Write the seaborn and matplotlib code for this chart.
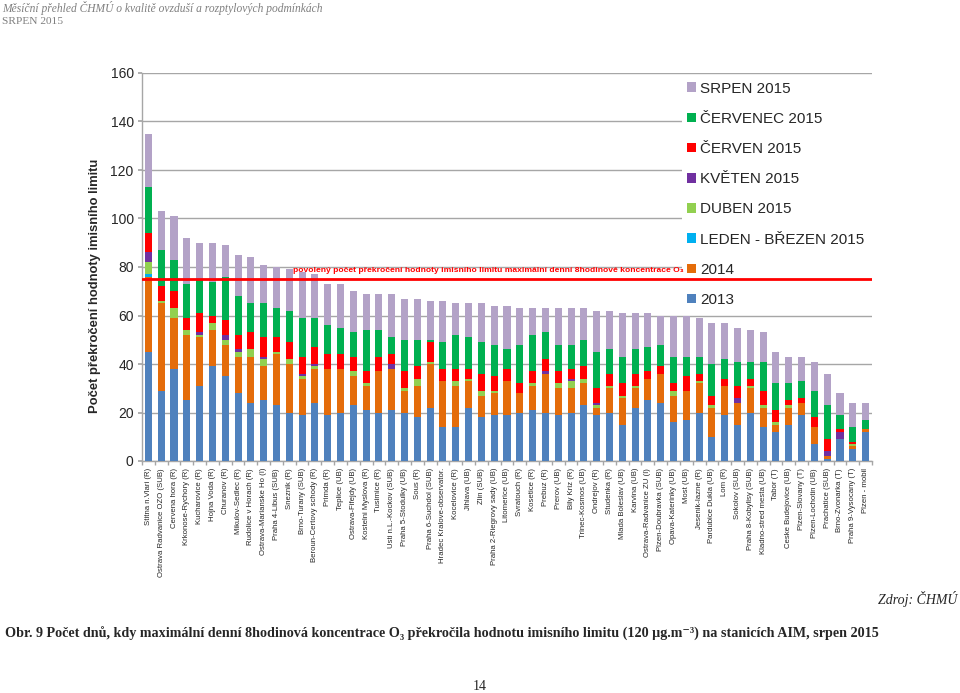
import numpy as np
import pandas as pd
import matplotlib
matplotlib.use("Agg")
import matplotlib.pyplot as plt
from matplotlib.patches import Patch, Rectangle
import seaborn as sns

stations = [
    "Stitna n.Vlari (R)", "Ostrava Radvanice OZO (SUB)", "Cervena hora (R)", "Krkonose-Rychory (R)",
    "Kucharovice (R)", "Hojna Voda (R)", "Churanov (R)", "Mikulov-Sedlec (R)", "Rudolice v Horach (R)",
    "Ostrava-Marianske Ho (I)", "Praha 4-Libus (SUB)", "Sneznik (R)", "Brno-Turany (SUB)",
    "Beroun-Certovy schody (R)", "Primda (R)", "Teplice (UB)", "Ostrava-Fifejdy (UB)",
    "Kostelni Myslova (R)", "Tusimice (R)", "Usti n.L.-Kockov (SUB)", "Praha 5-Stodulky (UB)",
    "Sous (R)", "Praha 6-Suchdol (SUB)", "Hradec Kralove-observator.", "Kocelovice (R)",
    "Jihlava (UB)", "Zlin (SUB)", "Praha 2-Riegrovy sady (UB)", "Litomerice (UB)", "Svratouch (R)",
    "Kosetice (R)", "Prebuz (R)", "Prerov (UB)", "Bily Kriz (R)", "Trinec-Kosmos (UB)",
    "Ondrejov (R)", "Studenka (R)", "Mlada Boleslav (UB)", "Karvina (UB)",
    "Ostrava-Radvanice ZU (I)", "Plzen-Doubravka (SUB)", "Opava-Katerinky (UB)", "Most (UB)",
    "Jesenik-lazne (R)", "Pardubice Dukla (UB)", "Lom (R)", "Sokolov (SUB)",
    "Praha 8-Kobylisy (SUB)", "Kladno-stred mesta (UB)", "Tabor (T)", "Ceske Budejovice (UB)",
    "Plzen-Slovany (T)", "Plzen-Lochotin (UB)", "Prachatice (SUB)", "Brno-Zvonarka (T)",
    "Praha 9-Vysocany (T)", "Plzen - mobil",
]

y2013 = [45, 29, 38, 25, 31, 39, 35, 28, 24, 25, 23, 20, 19, 24, 19, 20, 23, 21, 20, 21, 20, 18, 22, 14, 14,
         22, 18, 19, 19, 20, 21, 20, 19, 20, 23, 19, 20, 15, 22, 25, 24, 16, 17, 20, 10, 19, 15, 20, 14, 12,
         15, 19, 7, 1, 9, 5, 12]
y2014 = [31, 36, 21, 27, 20, 15, 13, 15, 19, 14, 21, 20, 15, 14, 19, 18, 12, 10, 17, 17, 9, 13, 18, 19, 17,
         11, 9, 9, 14, 8, 10, 16, 11, 10, 9, 3, 10, 11, 8, 9, 12, 11, 12, 12, 12, 12, 9, 10, 8, 3,
         7, 5, 7, 1, 0, 1, 1]
leden_brezen = [1] + [0] * 56
duben = [5, 1, 4, 2, 1, 3, 2, 2, 3, 3, 1, 2, 1, 1, 0, 0, 2, 1, 0, 0, 1, 3, 1, 0, 2,
         1, 2, 1, 0, 0, 1, 0, 2, 3, 2, 1, 1, 1, 1, 0, 0, 2, 0, 1, 1, 0, 0, 1, 1, 1,
         1, 0, 0, 0, 0, 1, 0]
kveten = [4, 0, 0, 0, 1, 0, 2, 1, 0, 1, 0, 0, 1, 1, 0, 0, 0, 0, 0, 2, 0, 0, 0, 0, 0,
          0, 0, 0, 0, 0, 0, 1, 0, 1, 0, 1, 0, 0, 0, 0, 0, 0, 0, 0, 0, 0, 2, 0, 0, 0,
          0, 0, 0, 2, 3, 0, 0]
cerven = [8, 6, 7, 5, 8, 3, 6, 6, 7, 8, 6, 7, 7, 7, 6, 6, 6, 5, 6, 4, 7, 5, 8, 5, 5,
          4, 7, 6, 5, 4, 5, 5, 5, 4, 5, 6, 5, 5, 5, 3, 3, 3, 6, 3, 4, 3, 5, 3, 6, 5,
          2, 2, 4, 5, 1, 1, 0]
cervenec = [19, 15, 13, 14, 14, 14, 18, 16, 12, 14, 12, 13, 16, 12, 12, 11, 10, 17, 11, 7, 13, 11, 1, 11, 14,
            13, 13, 13, 8, 16, 15, 11, 11, 10, 11, 15, 10, 11, 10, 10, 9, 11, 8, 7, 13, 8, 10, 7, 12, 11,
            7, 7, 11, 14, 6, 6, 4]
srpen = [22, 16, 18, 19, 15, 16, 13, 17, 19, 16, 17, 17, 19, 18, 17, 18, 17, 15, 15, 18, 17, 17, 16, 17, 13,
         14, 16, 16, 18, 15, 11, 10, 15, 15, 13, 17, 16, 18, 15, 14, 12, 17, 17, 16, 17, 15, 14, 13, 12, 13,
         11, 10, 12, 13, 9, 10, 7]

series_labels = ["2013", "2014", "LEDEN - BŘEZEN 2015", "DUBEN 2015", "KVĚTEN 2015",
                 "ČERVEN 2015", "ČERVENEC 2015", "SRPEN 2015"]
series_colors = ["#4F81BD", "#E46C0A", "#00B0F0", "#92D050", "#7030A0",
                 "#FF0000", "#00B050", "#B3A2C7"]
limit_value = 75

df = pd.DataFrame({
    "station": stations,
    "2013": y2013, "2014": y2014, "LEDEN - BŘEZEN 2015": leden_brezen,
    "DUBEN 2015": duben, "KVĚTEN 2015": kveten, "ČERVEN 2015": cerven,
    "ČERVENEC 2015": cervenec, "SRPEN 2015": srpen,
})
cum = df[series_labels].cumsum(axis=1)

sns.set_theme(style="white")
plt.rcParams["font.family"] = ["Liberation Sans", "DejaVu Sans"]

W, H = 960, 693
fig = plt.figure(figsize=(W / 100, H / 100), dpi=100)
ax = fig.add_axes([142 / W, 1 - 461 / H, (872 - 142) / W, (461 - 73) / H])

for lab, col in reversed(list(zip(series_labels, series_colors))):
    sns.barplot(x=df["station"], y=cum[lab], color=col, saturation=1, width=0.55,
                order=stations, ax=ax, zorder=3, linewidth=0)

ax.set_ylim(0, 160)
ax.set_xlim(-0.5, len(stations) - 0.5)
ax.set_yticks(np.arange(0, 161, 20))
ax.yaxis.grid(True, color="#A6A6A6", linewidth=1, zorder=0)
ax.set_axisbelow(True)
ax.tick_params(axis="y", labelsize=10, length=3, color="#A6A6A6", direction="out", pad=3, left=True)
ax.set_xticks(range(len(stations)))
ax.set_xticklabels(stations, rotation=90, fontsize=5.6)
ax.tick_params(axis="x", length=0, pad=5)
ax.set_xticks(np.arange(-0.5, len(stations), 1), minor=True)
ax.tick_params(axis="x", which="minor", length=3, color="#A6A6A6", bottom=True)
ax.set_xlabel("")
ax.set_ylabel("")
for s in ["top", "right"]:
    ax.spines[s].set_visible(False)
for s in ["left", "bottom"]:
    ax.spines[s].set_color("#A6A6A6")
    ax.spines[s].set_linewidth(1)

# white background behind the legend (covers gridlines like the original)
ax.add_patch(Rectangle((682 / W, 1 - 306 / H), 194 / W, (306 - 78) / H,
                       transform=fig.transFigure, facecolor="white", edgecolor="none",
                       zorder=4, clip_on=False))

handles = [Patch(facecolor=c, edgecolor="none") for c in reversed(series_colors)]
leg = ax.legend(handles, list(reversed(series_labels)), loc="upper left",
                bbox_to_anchor=(682 / W, 1 - 77 / H), bbox_transform=fig.transFigure,
                frameon=False,
                fontsize=11, handlelength=0.6, handleheight=0.6, handletextpad=0.3,
                labelspacing=1.06, borderpad=0.3, borderaxespad=0)
leg.set_zorder(5)

ax.axhline(limit_value, color="#FF0000", linewidth=2, zorder=10)
fig.text(684 / W, 1 - 272 / H,
         "povolený počet překročení hodnoty imisního limitu maximální denní 8hodinové koncentrace O₃",
         color="#FF0000", fontsize=6.1, fontweight="bold", ha="right", va="baseline",
         family=["Liberation Sans", "DejaVu Sans"])

fig.text(95 / W, 1 - 286 / H, "Počet překročení hodnoty imisního limitu", rotation=90,
         ha="center", va="center", fontsize=9.4, fontweight="bold")

serif = ["Liberation Serif", "DejaVu Serif"]
fig.text(2 / W, 1 - 8 / H, "Měsíční přehled ČHMÚ o kvalitě ovzduší a rozptylových podmínkách",
         family=serif, style="italic", fontsize=8.3, color="#7F7F7F", va="center", ha="left")
fig.text(2 / W, 1 - 21 / H, "SRPEN 2015", family=serif, fontsize=8.2, color="#7F7F7F",
         va="center", ha="left")
fig.text(957 / W, 1 - 599 / H, "Zdroj: ČHMÚ", family=serif, style="italic", fontsize=10,
         ha="right", va="center")
fig.text(5 / W, 1 - 634 / H,
         "Obr. 9 Počet dnů, kdy maximální denní 8hodinová koncentrace O₃ překročila hodnotu imisního limitu (120 µg.m⁻³) na stanicích AIM, srpen 2015",
         family=serif, fontweight="bold", fontsize=10.15, ha="left", va="center")
fig.text(480 / W, 1 - 686 / H, "14", family=serif, fontsize=10, ha="center", va="center")

fig.savefig("out.png", dpi=100)
